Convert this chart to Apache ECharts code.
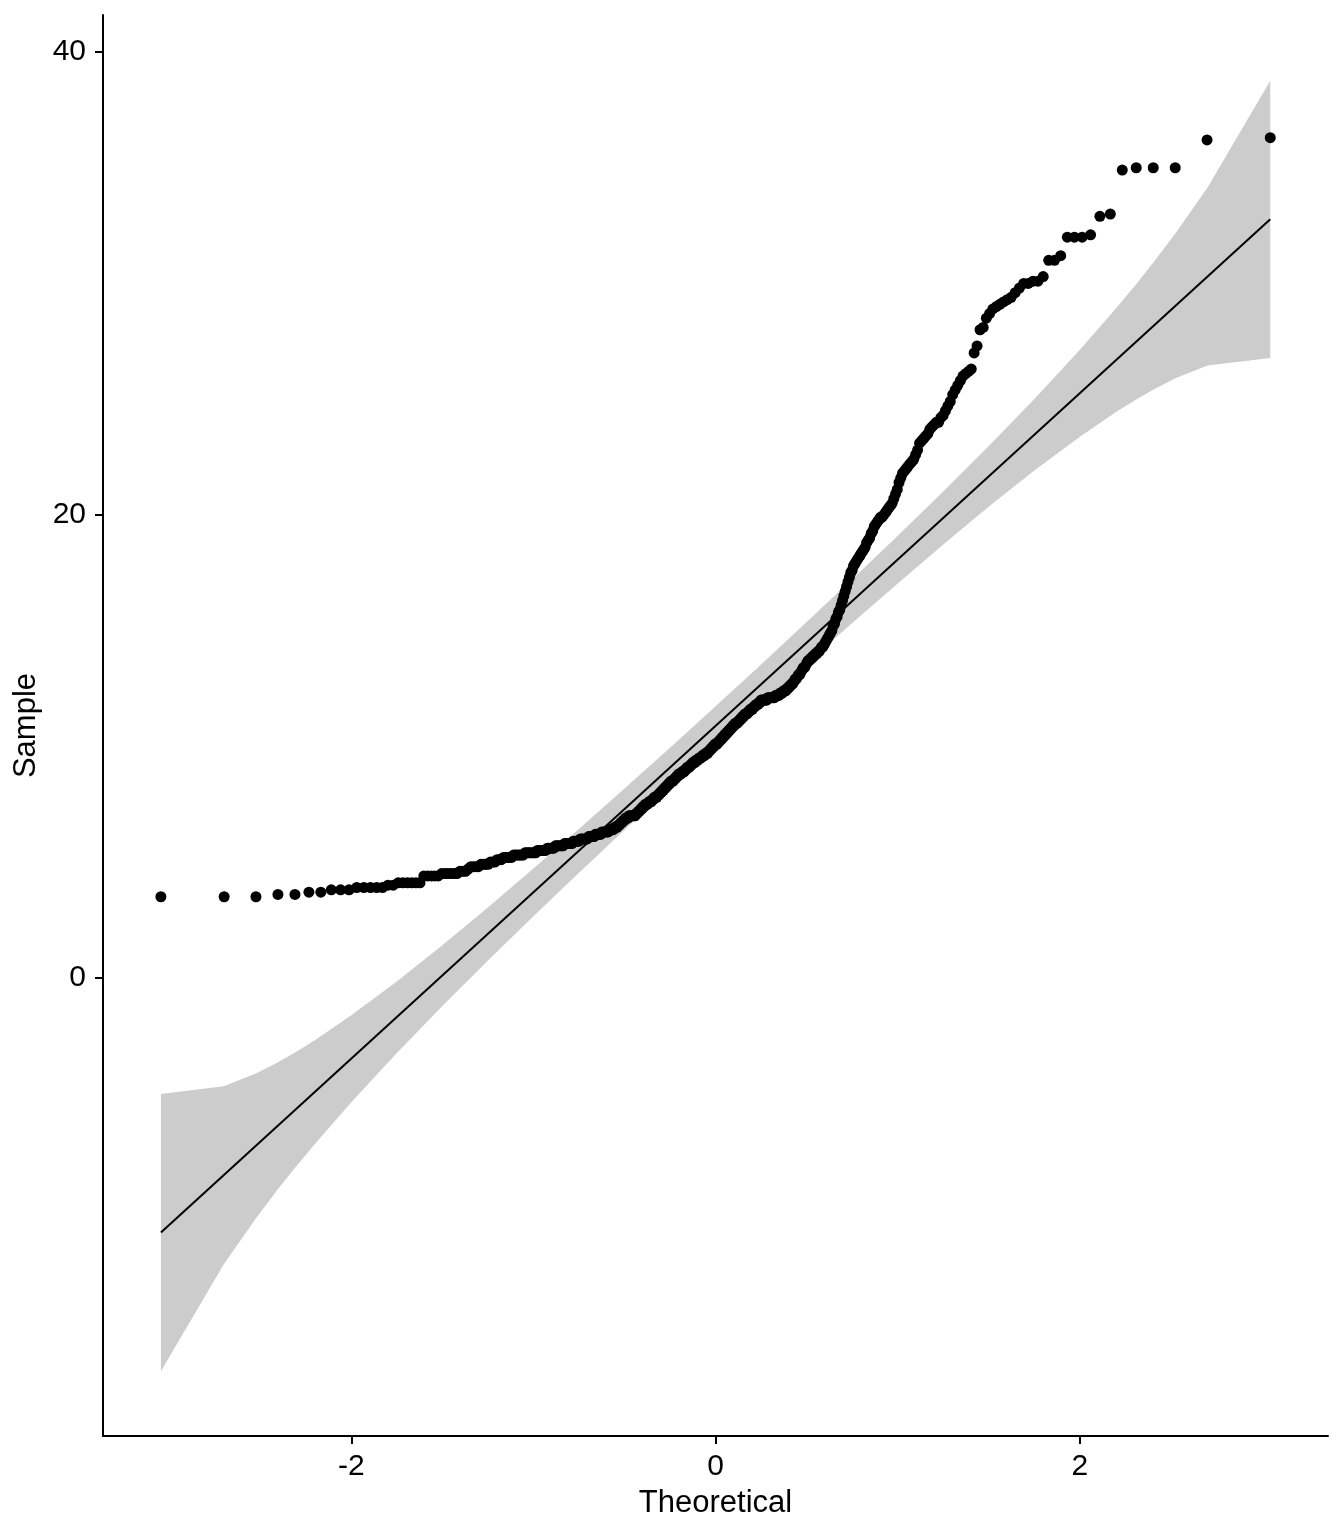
<!DOCTYPE html>
<html>
<head>
<meta charset="utf-8">
<script src="https://cdn.jsdelivr.net/npm/echarts@6/dist/echarts.min.js"></script>
<style>
  html, body { margin: 0; padding: 0; background: #ffffff; }
  #qq-chart { width: 1344px; height: 1536px; }
</style>
</head>
<body>
<div id="qq-chart"></div>
<script>
// sorted sample values (n = 430)
const sampleValues = [
  3.5, 3.5, 3.5, 3.6, 3.6, 3.7, 3.7, 3.8, 3.8, 3.8,
  3.9, 3.9, 3.9, 3.9, 3.9, 4.0, 4.0, 4.1, 4.1, 4.1,
  4.1, 4.1, 4.1, 4.4, 4.4, 4.4, 4.4, 4.4, 4.5, 4.5,
  4.5, 4.5, 4.5, 4.5, 4.6, 4.6, 4.6, 4.7, 4.8, 4.8,
  4.8, 4.8, 4.9, 4.9, 4.9, 4.9, 5.0, 5.0, 5.0, 5.1,
  5.1, 5.1, 5.2, 5.2, 5.2, 5.2, 5.2, 5.3, 5.3, 5.3,
  5.3, 5.3, 5.3, 5.4, 5.4, 5.4, 5.4, 5.4, 5.4, 5.4,
  5.5, 5.5, 5.5, 5.5, 5.5, 5.5, 5.6, 5.6, 5.6, 5.6,
  5.6, 5.7, 5.7, 5.7, 5.7, 5.7, 5.7, 5.8, 5.8, 5.8,
  5.8, 5.8, 5.8, 5.9, 5.9, 5.9, 5.9, 5.9, 6.0, 6.0,
  6.0, 6.0, 6.0, 6.0, 6.1, 6.1, 6.1, 6.1, 6.1, 6.2,
  6.2, 6.2, 6.2, 6.2, 6.3, 6.3, 6.3, 6.3, 6.3, 6.3,
  6.4, 6.4, 6.4, 6.4, 6.5, 6.5, 6.5, 6.6, 6.6, 6.7,
  6.7, 6.8, 6.8, 6.9, 6.9, 6.9, 7.0, 7.0, 7.0, 7.0,
  7.0, 7.0, 7.1, 7.1, 7.2, 7.2, 7.3, 7.3, 7.4, 7.4,
  7.5, 7.5, 7.5, 7.6, 7.6, 7.6, 7.7, 7.7, 7.8, 7.8,
  7.8, 7.9, 7.9, 8.0, 8.0, 8.1, 8.1, 8.2, 8.2, 8.3,
  8.3, 8.4, 8.4, 8.5, 8.5, 8.5, 8.6, 8.6, 8.7, 8.7,
  8.8, 8.8, 8.8, 8.9, 8.9, 8.9, 9.0, 9.0, 9.1, 9.1,
  9.1, 9.2, 9.2, 9.3, 9.3, 9.3, 9.4, 9.4, 9.4, 9.5,
  9.5, 9.5, 9.6, 9.6, 9.6, 9.7, 9.7, 9.7, 9.8, 9.8,
  9.9, 9.9, 10.0, 10.0, 10.1, 10.1, 10.1, 10.2, 10.2, 10.3,
  10.3, 10.4, 10.4, 10.5, 10.5, 10.6, 10.6, 10.7, 10.7, 10.8,
  10.8, 10.9, 10.9, 11.0, 11.0, 11.0, 11.1, 11.1, 11.2, 11.2,
  11.3, 11.3, 11.4, 11.4, 11.4, 11.5, 11.5, 11.6, 11.6, 11.6,
  11.7, 11.7, 11.8, 11.8, 11.8, 11.9, 11.9, 12.0, 12.0, 12.0,
  12.0, 12.0, 12.0, 12.1, 12.1, 12.1, 12.1, 12.1, 12.1, 12.1,
  12.2, 12.2, 12.2, 12.2, 12.3, 12.3, 12.3, 12.4, 12.4, 12.4,
  12.5, 12.5, 12.6, 12.6, 12.7, 12.7, 12.8, 12.9, 12.9, 13.0,
  13.1, 13.1, 13.2, 13.3, 13.4, 13.4, 13.5, 13.6, 13.7, 13.7,
  13.8, 13.8, 13.9, 13.9, 14.0, 14.0, 14.1, 14.1, 14.2, 14.3,
  14.3, 14.4, 14.5, 14.6, 14.7, 14.8, 14.9, 15.0, 15.2, 15.3,
  15.5, 15.6, 15.8, 15.9, 16.1, 16.3, 16.5, 16.7, 16.9, 17.1,
  17.3, 17.5, 17.6, 17.8, 17.9, 18.0, 18.1, 18.2, 18.3, 18.4,
  18.5, 18.6, 18.8, 18.9, 19.0, 19.2, 19.3, 19.5, 19.6, 19.7,
  19.8, 19.9, 19.9, 20.0, 20.1, 20.2, 20.3, 20.4, 20.5, 20.7,
  20.9, 21.1, 21.4, 21.6, 21.8, 21.9, 22.0, 22.1, 22.2, 22.3,
  22.4, 22.6, 22.8, 23.1, 23.2, 23.3, 23.4, 23.5, 23.7, 23.8,
  23.9, 24.0, 24.0, 24.2, 24.3, 24.5, 24.7, 24.9, 25.2, 25.4,
  25.6, 25.8, 26.0, 26.1, 26.2, 26.3, 27.0, 27.3, 28.0, 28.1,
  28.5, 28.7, 28.9, 29.0, 29.1, 29.2, 29.3, 29.4, 29.6, 29.8,
  30.0, 30.0, 30.1, 30.1, 30.3, 31.0, 31.0, 31.2, 32.0, 32.0,
  32.0, 32.1, 32.9, 33.0, 34.9, 35.0, 35.0, 35.0, 36.2, 36.3,
];

// reference line end points (theoretical, sample)
const lineX = [-3.045, 3.045];
const lineY = [-11.01, 32.77];

// confidence band
const bandX = [-3.045, -2.70, -2.524, -2.402, -2.309, -2.2, -2.0, -1.75, -1.5, -1.25, -1.0, -0.75, -0.5, -0.25, 0,
  0.25, 0.5, 0.75, 1.0, 1.25, 1.5, 1.75, 2.0, 2.2, 2.309, 2.402, 2.524, 2.70, 3.045];
const bandLower = [-17.00, -12.38, -10.40, -9.13, -8.21, -7.18, -5.38, -3.25, -1.22, 0.75, 2.66, 4.54, 6.39, 8.22, 10.03,
  11.82, 13.58, 15.33, 17.04, 18.72, 20.36, 21.92, 23.38, 24.46, 24.99, 25.41, 25.90, 26.45, 26.78];
const bandUpper = [-5.02, -4.69, -4.14, -3.65, -3.23, -2.70, -1.62, -0.16, 1.41, 3.04, 4.72, 6.43, 8.18, 9.94, 11.73,
  13.54, 15.37, 17.22, 19.10, 21.01, 22.98, 25.01, 27.14, 28.94, 29.97, 30.89, 32.16, 34.14, 38.76];

const xTicks = [-2, 0, 2];
const yTicks = [0, 20, 40];

// inverse normal cdf (Acklam), used for the theoretical quantiles
function qnorm(p) {
  const a = [-39.69683028665376, 220.9460984245205, -275.9285104469687, 138.3577518672690, -30.66479806614716, 2.506628277459239];
  const b = [-54.47609879822406, 161.5858368580409, -155.6989798598866, 66.80131188771972, -13.28068155288572];
  const c = [-0.007784894002430293, -0.3223964580411365, -2.400758277161838, -2.549732539343734, 4.374664141464968, 2.938163982698783];
  const d = [0.007784695709041462, 0.3224671290700398, 2.445134137142996, 3.754408661907416];
  const tail = (q) =>
    (((((c[0] * q + c[1]) * q + c[2]) * q + c[3]) * q + c[4]) * q + c[5]) /
    ((((d[0] * q + d[1]) * q + d[2]) * q + d[3]) * q + 1);
  if (p < 0.02425) {
    return tail(Math.sqrt(-2 * Math.log(p)));
  }
  if (p > 1 - 0.02425) {
    return -tail(Math.sqrt(-2 * Math.log(1 - p)));
  }
  const q = p - 0.5;
  const r = q * q;
  return ((((((a[0] * r + a[1]) * r + a[2]) * r + a[3]) * r + a[4]) * r + a[5]) * q) /
    (((((b[0] * r + b[1]) * r + b[2]) * r + b[3]) * r + b[4]) * r + 1);
}

const n = sampleValues.length;
const qqPoints = sampleValues.map((v, i) => [qnorm((i + 0.5) / n), v]);

const FONT = "'Liberation Sans', Arial, sans-serif";
const chart = echarts.init(document.getElementById("qq-chart"));

const axisCommon = {
  type: "value",
  nameLocation: "middle",
  nameTextStyle: { color: "#000000", fontSize: 31, fontFamily: FONT },
  axisLine: { show: true, onZero: false, lineStyle: { color: "#000000", width: 2 } },
  axisTick: { show: true, length: 8, lineStyle: { color: "#000000", width: 2 } },
  splitLine: { show: false },
};

chart.setOption({
  backgroundColor: "#ffffff",
  animation: false,
  grid: { left: 103, right: 16, top: 15, bottom: 100 },
  xAxis: {
    ...axisCommon,
    name: "Theoretical",
    nameGap: 52,
    min: -3.363,
    max: 3.362,
    axisTick: { ...axisCommon.axisTick, customValues: xTicks },
    axisLabel: { customValues: xTicks, color: "#000000", fontSize: 30, fontFamily: FONT, margin: 16 },
  },
  yAxis: {
    ...axisCommon,
    name: "Sample",
    nameGap: 58,
    min: -19.8,
    max: 41.6,
    axisTick: { ...axisCommon.axisTick, customValues: yTicks },
    axisLabel: { customValues: yTicks, color: "#000000", fontSize: 30, fontFamily: FONT, margin: 17 },
  },
  series: [
    {
      name: "band",
      type: "custom",
      silent: true,
      z: 1,
      data: bandX.map((x, i) => [x, bandLower[i], bandUpper[i]]),
      encode: { x: 0, y: [1, 2] },
      renderItem: (params, api) => {
        if (params.dataIndex !== 0) {
          return null;
        }
        const pts = [];
        bandX.forEach((x, i) => pts.push(api.coord([x, bandUpper[i]])));
        for (let i = bandX.length - 1; i >= 0; i--) {
          pts.push(api.coord([bandX[i], bandLower[i]]));
        }
        return { type: "polygon", shape: { points: pts }, style: { fill: "#cccccc" } };
      },
    },
    {
      name: "line",
      type: "line",
      z: 2,
      silent: true,
      symbol: "none",
      data: lineX.map((x, i) => [x, lineY[i]]),
      lineStyle: { color: "#000000", width: 2 },
    },
    {
      name: "sample",
      type: "scatter",
      z: 3,
      symbolSize: 11,
      itemStyle: { color: "#000000", opacity: 1 },
      data: qqPoints,
    },
  ],
});
</script>
</body>
</html>
